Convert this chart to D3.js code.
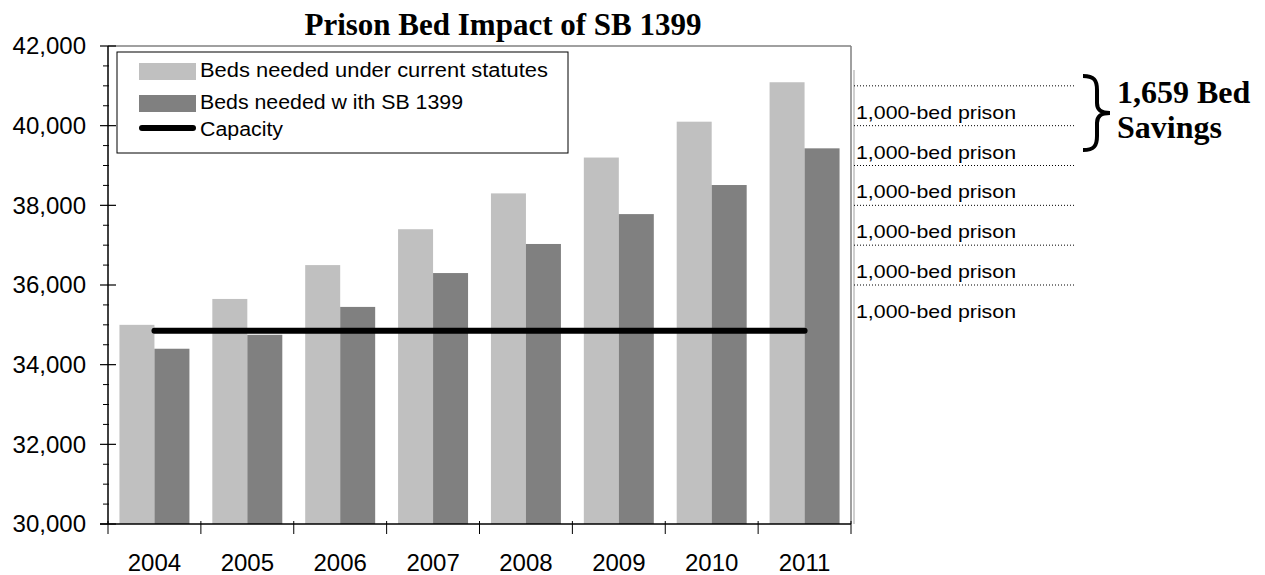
<!DOCTYPE html>
<html>
<head>
<meta charset="utf-8">
<script src="https://cdn.jsdelivr.net/npm/d3@7/dist/d3.min.js"></script>
<style>
  body { margin: 0; background: #fff; }
  svg { display: block; }
</style>
</head>
<body>
<svg id="chart" width="1265" height="575"></svg>
<script>
// ---- data ----
const years = ["2004", "2005", "2006", "2007", "2008", "2009", "2010", "2011"];
const bedsCurrent = [35000, 35650, 36500, 37400, 38300, 39200, 40100, 41090];
const bedsSB1399 = [34400, 34750, 35450, 36300, 37030, 37780, 38510, 39431];
const capacity = [34850, 34850, 34850, 34850, 34850, 34850, 34850, 34850];
const seriesNames = ["Beds needed under current statutes", "Beds needed w ith SB 1399", "Capacity"];
const yTicks = [30000, 32000, 34000, 36000, 38000, 40000, 42000];
const prisonLines = [41000, 40000, 39000, 38000, 37000, 36000];
const prisonLabelLevels = [40000, 39000, 38000, 37000, 36000, 35000];
const prisonLabel = "1,000-bed prison";
const savingsText = ["1,659 Bed", "Savings"];
const title = "Prison Bed Impact of SB 1399";

const colors = { current: "#c0c0c0", sb: "#808080", cap: "#000000" };

const svg = d3.select("#chart");
const L = 108, R = 851, T = 46, B = 524;

const y = d3.scaleLinear().domain([30000, 42000]).range([B, T]);
const x0 = d3.scaleBand().domain(years).range([L, R]).padding(0);
const x1 = d3.scaleBand().domain(["current", "sb"]).range([0, x0.bandwidth()])
  .paddingInner(0).paddingOuter(0.327);

// title
svg.append("text").attr("x", 503).attr("y", 35)
  .attr("text-anchor", "middle")
  .style("font-family", "'Liberation Serif','Times New Roman',serif")
  .style("font-weight", "bold").style("font-size", "31px")
  .text(title);

// plot border (top/right gray)
svg.append("line").attr("x1", L).attr("x2", R).attr("y1", T).attr("y2", T)
  .attr("stroke", "#808080").attr("stroke-width", 1.5);
svg.append("line").attr("x1", R).attr("x2", R).attr("y1", T).attr("y2", B)
  .attr("stroke", "#808080").attr("stroke-width", 1.5);
svg.append("line").attr("x1", R + 3).attr("x2", R + 3).attr("y1", 70).attr("y2", B)
  .attr("stroke", "#a0a0a0").attr("stroke-width", 1);

// bars
const g = svg.append("g");
years.forEach((yr, i) => {
  const gx = x0(yr);
  g.append("rect").attr("x", gx + x1("current")).attr("width", x1.bandwidth())
    .attr("y", y(bedsCurrent[i])).attr("height", B - y(bedsCurrent[i]))
    .attr("fill", colors.current);
  g.append("rect").attr("x", gx + x1("sb")).attr("width", x1.bandwidth())
    .attr("y", y(bedsSB1399[i])).attr("height", B - y(bedsSB1399[i]))
    .attr("fill", colors.sb);
});

// capacity line
const line = d3.line()
  .x((d, i) => x0(years[i]) + x0.bandwidth() / 2)
  .y(d => y(d));
svg.append("path").datum(capacity).attr("d", line)
  .attr("fill", "none").attr("stroke", colors.cap)
  .attr("stroke-width", 6).attr("stroke-linecap", "round");

// y axis
const yAxis = d3.axisLeft(y).tickValues(yTicks).tickFormat(d3.format(",")).tickSize(0).tickPadding(22);
const ya = svg.append("g").attr("transform", `translate(${L},0)`).call(yAxis);
ya.select(".domain").remove();
ya.selectAll("text").style("font-family", "'Liberation Sans',Arial,sans-serif")
  .style("font-size", "24px").attr("fill", "#000");
svg.append("line").attr("x1", L).attr("x2", L).attr("y1", T).attr("y2", B)
  .attr("stroke", "#000").attr("stroke-width", 1.5);
// major ticks
yTicks.forEach(v => {
  svg.append("line").attr("x1", L - 8).attr("x2", L + 8).attr("y1", y(v)).attr("y2", y(v))
    .attr("stroke", "#000").attr("stroke-width", 1.2);
});
// minor ticks
d3.range(30000, 42001, 500).filter(v => v % 2000 !== 0).forEach(v => {
  svg.append("line").attr("x1", L - 5).attr("x2", L + 1).attr("y1", y(v)).attr("y2", y(v))
    .attr("stroke", "#000").attr("stroke-width", 1);
});

// x axis
svg.append("line").attr("x1", L - 8).attr("x2", R).attr("y1", B).attr("y2", B)
  .attr("stroke", "#000").attr("stroke-width", 1.5);
const xa = svg.append("g").attr("transform", `translate(0,${B})`)
  .call(d3.axisBottom(x0).tickSize(0).tickPadding(30));
xa.select(".domain").remove();
xa.selectAll("text").style("font-family", "'Liberation Sans',Arial,sans-serif")
  .style("font-size", "24px").attr("fill", "#000");
years.forEach(yr => {
  svg.append("line").attr("x1", x0(yr)).attr("x2", x0(yr)).attr("y1", B - 3).attr("y2", B + 10)
    .attr("stroke", "#000").attr("stroke-width", 1);
});
svg.append("line").attr("x1", R).attr("x2", R).attr("y1", B - 3).attr("y2", B + 10)
  .attr("stroke", "#000").attr("stroke-width", 1);

// legend
const lg = svg.append("g");
lg.append("rect").attr("x", 117).attr("y", 52).attr("width", 451).attr("height", 101)
  .attr("fill", "#fff").attr("stroke", "#000").attr("stroke-width", 1);
lg.append("rect").attr("x", 139).attr("y", 63).attr("width", 57).attr("height", 17).attr("fill", colors.current);
lg.append("rect").attr("x", 139).attr("y", 95).attr("width", 57).attr("height", 17).attr("fill", colors.sb);
lg.append("line").attr("x1", 142).attr("x2", 193).attr("y1", 128).attr("y2", 128)
  .attr("stroke", colors.cap).attr("stroke-width", 6).attr("stroke-linecap", "round");
const legY = [77, 109, 136];
const legW = [348, 263, 83];
seriesNames.forEach((s, i) => {
  lg.append("text").attr("x", 200).attr("y", legY[i])
    .attr("textLength", legW[i]).attr("lengthAdjust", "spacingAndGlyphs")
    .style("font-family", "'Liberation Sans',Arial,sans-serif").style("font-size", "19.5px")
    .text(s);
});

// prison annotation lines
prisonLines.forEach(v => {
  svg.append("line").attr("x1", 854).attr("x2", 1075).attr("y1", y(v)).attr("y2", y(v))
    .attr("stroke", "#000").attr("stroke-width", 1).attr("stroke-dasharray", "1,2");
});
prisonLabelLevels.forEach(v => {
  svg.append("text").attr("x", 856).attr("y", y(v) - 7)
    .attr("textLength", 160).attr("lengthAdjust", "spacingAndGlyphs")
    .style("font-family", "'Liberation Sans',Arial,sans-serif").style("font-size", "18.5px")
    .text(prisonLabel);
});

// brace
svg.append("path")
  .attr("d", "M1083,76 C1094,76 1097,80 1097,90 L1097,103 C1097,110 1101,113 1110,113 C1101,113 1097,116 1097,123 L1097,136 C1097,146 1094,150 1083,150")
  .attr("fill", "none").attr("stroke", "#000").attr("stroke-width", 4);

savingsText.forEach((t, i) => {
  svg.append("text").attr("x", 1117).attr("y", 103 + i * 35)
    .style("font-family", "'Liberation Serif','Times New Roman',serif")
    .style("font-weight", "bold").style("font-size", "32px")
    .text(t);
});
</script>
</body>
</html>
